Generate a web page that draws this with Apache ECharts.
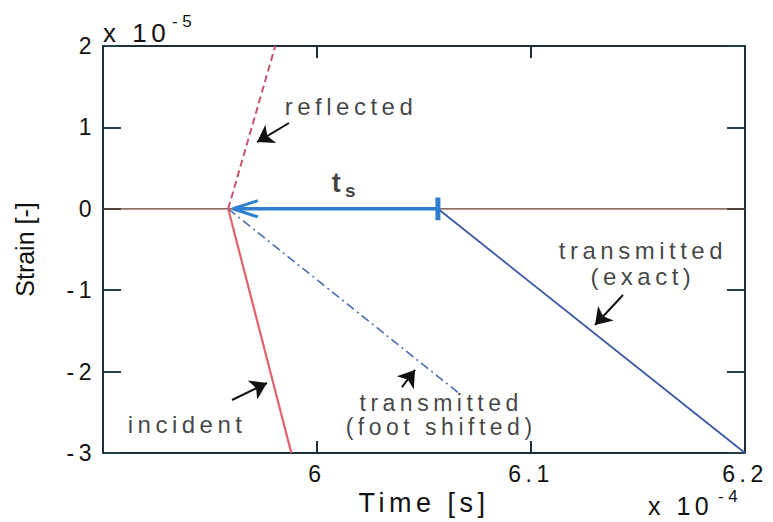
<!DOCTYPE html>
<html><head><meta charset="utf-8">
<script src="https://cdn.jsdelivr.net/npm/echarts@6/dist/echarts.min.js"></script>
<style>
html,body{margin:0;padding:0;background:#fff}
#chart{width:773px;height:522px}
#chart text[style*="Liberation"], #chart text[font-family*="Liberation"]{letter-spacing:4.5px}
</style></head><body><div id="chart"></div>
<script>
// ---- axis ticks ----
const xTickValues = [5.9, 6.0, 6.1, 6.2];
const xTickLabels = ['', '6', '6.1', '6.2'];
const yTickValues = [-3, -2, -1, 0, 1, 2];
const yTickLabels = ['-3', '-2', '-1', '0', '1', '2'];

// ---- series (time in 1e-4 s, strain in 1e-5) ----
const zeroLineX = [5.9, 6.2];
const zeroLineY = [0, 0];
const incidentX = [5.9585, 5.988];
const incidentY = [0, -3];
const reflectedX = [5.9585, 5.9805];
const reflectedY = [0, 2];
const exactX = [6.0565, 6.2];
const exactY = [0, -3];
const footX = [5.9585, 6.067];
const footY = [0, -2.28];

// ---- t_s arrow ----
const tsShaftX = [6.0565, 5.9607];
const tsShaftY = [0, 0];
const tsHeadX = [5.9724, 5.9607, 5.9724];
const tsHeadY = [0.1, 0, -0.1];
const tsBarX = [6.0565, 6.0565];
const tsBarY = [0.14, -0.14];

// ---- annotation pointers ----
const pointerTailX = [5.9869, 5.9603, 6.1430, 6.0397];
const pointerTailY = [1.054, -2.349, -1.059, -2.19];
const pointerHeadX = [5.9720, 5.9766, 6.1299, 6.0458];
const pointerHeadY = [0.82, -2.14, -1.428, -1.98];

// ---- annotation texts ----
const annoText = ['reflected', 'transmitted\n(exact)', 'transmitted\n(foot shifted)', 'incident'];
const annoX = [6.0159, 6.1523, 6.0580, 5.9393];
const annoY = [1.256, -0.675, -2.53, -2.651];
const annoLineHeight = [26, 26, 24, 26];
const annoFontSize = [24, 24, 23, 24];
const tsText = ['t', 's'];
const tsTextX = [6.0100, 6.0166];
const tsTextY = [0.311, 0.219];

const FONT = 'Liberation Sans';
const INK = '#111111';
const zip = (a, b) => a.map((v, i) => [v, b[i]]);

const chart = echarts.init(document.getElementById('chart'), null, {renderer: 'svg'});

const axisLine = {show: true, onZero: false, lineStyle: {color: '#1c2f3a', width: 2}};
const nearestLabel = (vals, labels) => v => {
  let best = 0;
  vals.forEach((t, i) => { if (Math.abs(t - v) < Math.abs(vals[best] - v)) best = i; });
  return labels[best];
};

function lineSeries(xs, ys, color, width, type, z) {
  return {
    type: 'line', data: zip(xs, ys), symbol: 'none', silent: true, z: z || 2,
    lineStyle: {color: color, width: width, type: type || 'solid'},
    emphasis: {disabled: true}
  };
}

const option = {
  animation: false,
  backgroundColor: '#ffffff',
  grid: {left: 103, right: 28, top: 46, bottom: 69, containLabel: false, outerBoundsMode: 'none'},
  xAxis: [{
    type: 'value', min: 5.9, max: 6.2, interval: 0.1, position: 'bottom',
    axisLine: axisLine,
    axisTick: {show: true, inside: true, length: 12, lineStyle: {color: '#1c2f3a', width: 2}},
    axisLabel: {show: true, formatter: nearestLabel(xTickValues, xTickLabels), fontSize: 23, fontFamily: FONT, color: INK, margin: 9, showMinLabel: true, showMaxLabel: true},
    splitLine: {show: false},
    name: 'Time [s]', nameLocation: 'middle', nameGap: 34,
    nameTextStyle: {fontSize: 27, fontFamily: FONT, color: INK}
  }, {
    type: 'value', min: 5.9, max: 6.2, interval: 0.1, position: 'top',
    axisLine: axisLine,
    axisTick: {show: true, inside: true, length: 12, lineStyle: {color: '#1c2f3a', width: 2}},
    axisLabel: {show: false}, splitLine: {show: false}
  }],
  yAxis: [{
    type: 'value', min: -3, max: 2, interval: 1, position: 'left',
    axisLine: axisLine,
    axisTick: {show: true, inside: true, length: 18, lineStyle: {color: '#24404c', width: 2}},
    axisLabel: {show: true, formatter: nearestLabel(yTickValues, yTickLabels), fontSize: 23, fontFamily: FONT, color: INK, margin: 7},
    splitLine: {show: false},
    name: 'Strain [-]', nameLocation: 'middle', nameGap: 66, nameRotate: 90,
    nameTextStyle: {fontSize: 25, fontFamily: 'Arial', color: INK}
  }, {
    type: 'value', min: -3, max: 2, interval: 1, position: 'right',
    axisLine: axisLine,
    axisTick: {show: true, inside: true, length: 18, lineStyle: {color: '#24404c', width: 2}},
    axisLabel: {show: false}, splitLine: {show: false}
  }],
  graphic: [
    {type: 'text', x: 103, y: 33, silent: true, style: {text: 'x 10', fontSize: 26, fontFamily: FONT, fill: INK, textVerticalAlign: 'middle', textAlign: 'left'}},
    {type: 'text', x: 172, y: 21, silent: true, style: {text: '-5', fontSize: 17, fontFamily: FONT, fill: INK, textVerticalAlign: 'middle', textAlign: 'left'}},
    {type: 'text', x: 648, y: 506, silent: true, style: {text: 'x 10', fontSize: 25, fontFamily: FONT, fill: INK, textVerticalAlign: 'middle', textAlign: 'left'}},
    {type: 'text', x: 718, y: 496, silent: true, style: {text: '-4', fontSize: 17, fontFamily: FONT, fill: INK, textVerticalAlign: 'middle', textAlign: 'left'}}
  ],
  series: [
    lineSeries(zeroLineX, zeroLineY, '#6e3f31', 1.3, 'solid', 1),
    lineSeries(footX, footY, '#4a6fae', 1.6, [9, 4, 2, 4], 2),
    lineSeries(exactX, exactY, '#3a58a4', 1.8, 'solid', 2),
    lineSeries(reflectedX, reflectedY, '#c9546f', 2, [7, 4], 3),
    lineSeries(incidentX, incidentY, '#e0626a', 2.2, 'solid', 3),
    lineSeries(tsShaftX, tsShaftY, '#2e7fd2', 3.5, 'solid', 5),
    lineSeries(tsHeadX, tsHeadY, '#2e7fd2', 3, 'solid', 5),
    lineSeries(tsBarX, tsBarY, '#2e7fd2', 5, 'solid', 5),
    {
      type: 'lines', coordinateSystem: 'cartesian2d', silent: true, z: 6,
      symbol: ['none', 'arrow'], symbolSize: [13, 16],
      lineStyle: {color: INK, width: 2, opacity: 1},
      data: pointerTailX.map((x, i) => ({coords: [[x, pointerTailY[i]], [pointerHeadX[i], pointerHeadY[i]]]}))
    },
    {
      type: 'scatter', silent: true, z: 7, symbolSize: 1,
      itemStyle: {color: 'transparent'},
      data: annoText.map((t, i) => ({value: [annoX[i], annoY[i]], name: t,
        label: {lineHeight: annoLineHeight[i], fontSize: annoFontSize[i]}})),
      label: {show: true, position: 'inside', formatter: p => p.name, fontFamily: FONT, color: INK, align: 'center', verticalAlign: 'middle'},
      emphasis: {disabled: true}
    },
    {
      type: 'scatter', silent: true, z: 7, symbolSize: 1,
      itemStyle: {color: 'transparent'},
      data: tsText.map((t, i) => ({value: [tsTextX[i], tsTextY[i]], name: t,
        label: {fontSize: i === 0 ? 27 : 19}})),
      label: {show: true, position: 'inside', formatter: p => p.name, fontWeight: 'bold', fontFamily: FONT, color: INK, align: 'center', verticalAlign: 'middle'},
      emphasis: {disabled: true}
    }
  ]
};
chart.setOption(option);
</script></body></html>
